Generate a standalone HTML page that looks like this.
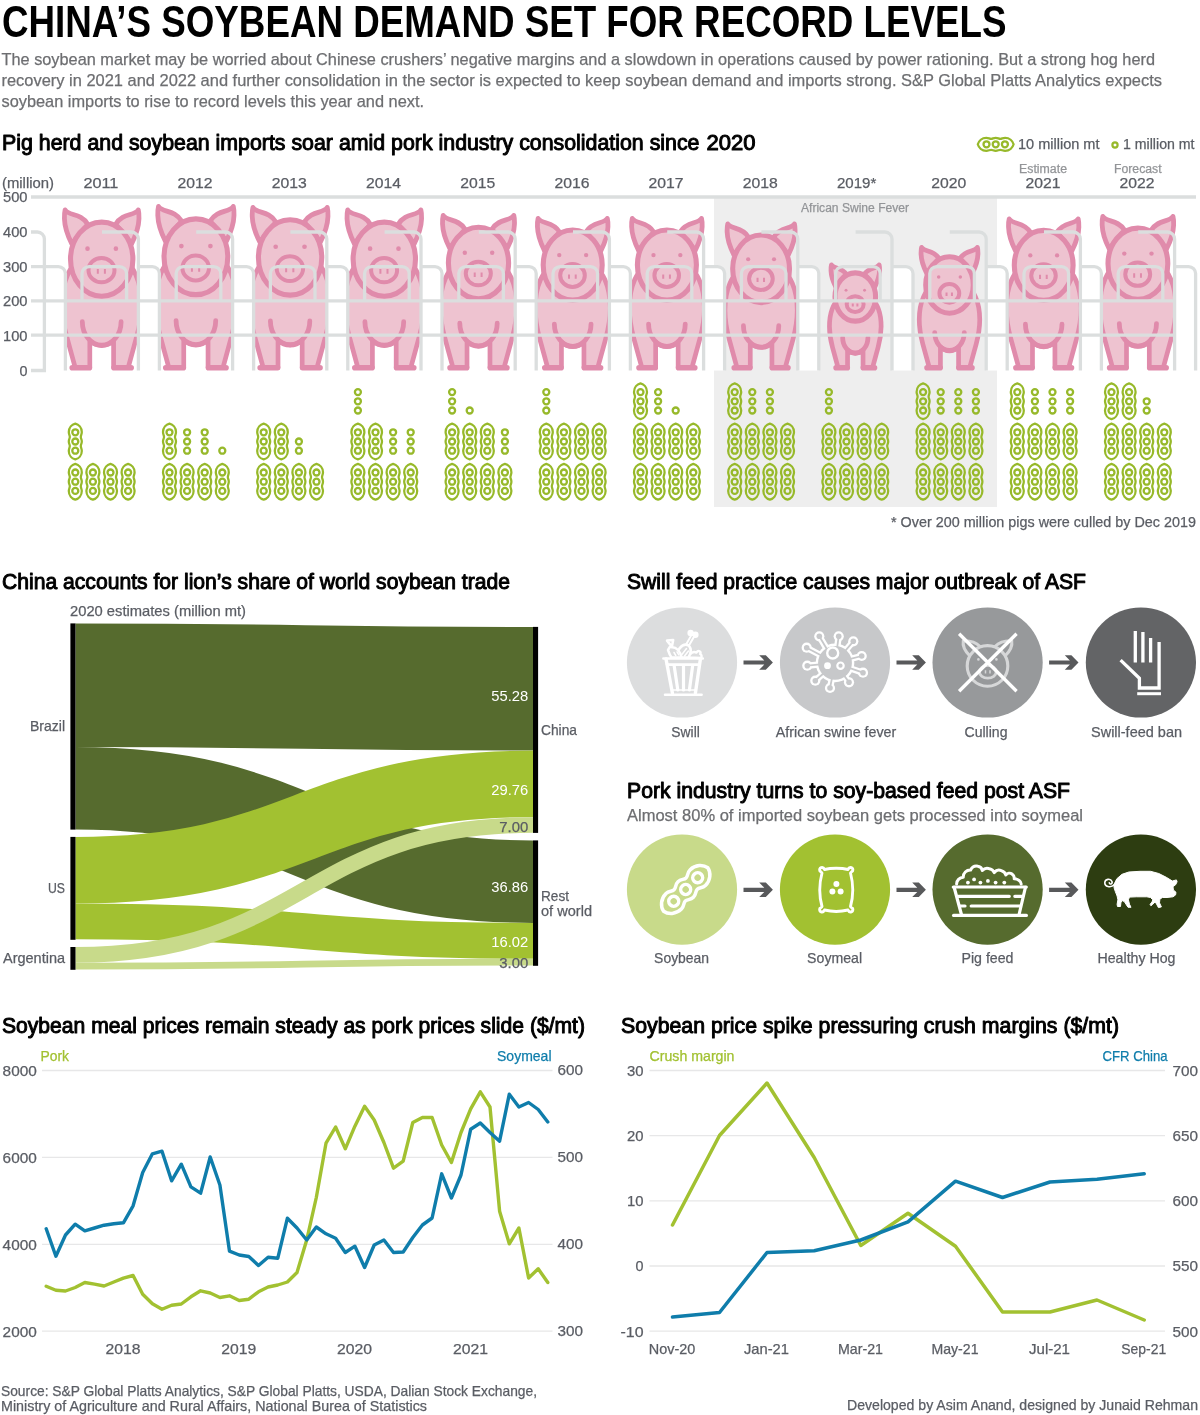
<!DOCTYPE html>
<html lang="en"><head><meta charset="utf-8"><title>China's soybean demand set for record levels</title>
<style>
html,body{margin:0;padding:0;background:#fff}
svg{display:block}
text{font-family:"Liberation Sans",sans-serif}
</style></head><body>
<svg width="1200" height="1415" viewBox="0 0 1200 1415">
<text x="2.0" y="37.0" font-size="43.5" fill="#000" textLength="1004.5" lengthAdjust="spacingAndGlyphs" font-weight="bold">CHINA’S SOYBEAN DEMAND SET FOR RECORD LEVELS</text>
<text x="1.5" y="65.0" font-size="17" fill="#6d6e71" textLength="1153.5" lengthAdjust="spacingAndGlyphs" stroke="#6d6e71" stroke-width="0.25">The soybean market may be worried about Chinese crushers’ negative margins and a slowdown in operations caused by power rationing. But a strong hog herd</text>
<text x="1.5" y="86.0" font-size="17" fill="#6d6e71" textLength="1160.5" lengthAdjust="spacingAndGlyphs" stroke="#6d6e71" stroke-width="0.25">recovery in 2021 and 2022 and further consolidation in the sector is expected to keep soybean demand and imports strong. S&amp;P Global Platts Analytics expects</text>
<text x="1.5" y="107.0" font-size="17" fill="#6d6e71" textLength="422.5" lengthAdjust="spacingAndGlyphs" stroke="#6d6e71" stroke-width="0.25">soybean imports to rise to record levels this year and next.</text>
<text x="2.0" y="150.0" font-size="22.2" fill="#000" textLength="697.5" lengthAdjust="spacingAndGlyphs" stroke="#000" stroke-width="1.0" stroke-linejoin="round">Pig herd and soybean imports soar amid pork industry consolidation since</text>
<text x="706.5" y="150.0" font-size="22.2" fill="#000" textLength="49.0" lengthAdjust="spacingAndGlyphs" stroke="#000" stroke-width="1.0" stroke-linejoin="round">2020</text>
<text x="2.0" y="589.0" font-size="22.2" fill="#000" textLength="508.0" lengthAdjust="spacingAndGlyphs" stroke="#000" stroke-width="1.0" stroke-linejoin="round">China accounts for lion’s share of world soybean trade</text>
<text x="627.0" y="589.0" font-size="22.2" fill="#000" textLength="459.0" lengthAdjust="spacingAndGlyphs" stroke="#000" stroke-width="1.0" stroke-linejoin="round">Swill feed practice causes major outbreak of ASF</text>
<text x="627.0" y="798.0" font-size="22.2" fill="#000" textLength="443.0" lengthAdjust="spacingAndGlyphs" stroke="#000" stroke-width="1.0" stroke-linejoin="round">Pork industry turns to soy-based feed post ASF</text>
<text x="627.0" y="820.6" font-size="16.3" fill="#6d6e71" textLength="456.0" lengthAdjust="spacingAndGlyphs" stroke="#6d6e71" stroke-width="0.25">Almost 80% of imported soybean gets processed into soymeal</text>
<text x="2.0" y="1033.0" font-size="22.2" fill="#000" textLength="583.0" lengthAdjust="spacingAndGlyphs" stroke="#000" stroke-width="1.0" stroke-linejoin="round">Soybean meal prices remain steady as pork prices slide ($/mt)</text>
<text x="621.0" y="1033.0" font-size="22.2" fill="#000" textLength="498.0" lengthAdjust="spacingAndGlyphs" stroke="#000" stroke-width="1.0" stroke-linejoin="round">Soybean price spike pressuring crush margins ($/mt)</text>
<text x="1.0" y="1396.0" font-size="14.5" fill="#5a5d64" textLength="536.0" lengthAdjust="spacingAndGlyphs" stroke="#5a5d64" stroke-width="0.25">Source: S&amp;P Global Platts Analytics, S&amp;P Global Platts, USDA, Dalian Stock Exchange,</text>
<text x="1.0" y="1411.0" font-size="14.5" fill="#5a5d64" textLength="426.0" lengthAdjust="spacingAndGlyphs" stroke="#5a5d64" stroke-width="0.25">Ministry of Agriculture and Rural Affairs, National Burea of Statistics</text>
<text x="847.0" y="1410.0" font-size="14.5" fill="#5a5d64" textLength="351.0" lengthAdjust="spacingAndGlyphs" stroke="#5a5d64" stroke-width="0.25">Developed by Asim Anand, designed by Junaid Rehman</text>
<defs>
<g id="pod" fill="none" stroke="#97b92a"><path d="M0,-17.9 C3.4,-17 6.5,-13.8 6.5,-9.4 C6.5,-7.2 5.5,-6.2 5.5,-4.6 C5.5,-3 6.5,-2.2 6.5,0 C6.5,2.2 5.5,3 5.5,4.6 C5.5,6.2 6.5,7.2 6.5,9.4 C6.5,13.8 3.4,17 0,17.9 C-3.4,17 -6.5,13.8 -6.5,9.4 C-6.5,7.2 -5.5,6.2 -5.5,4.6 C-5.5,3 -6.5,2.2 -6.5,0 C-6.5,-2.2 -5.5,-3 -5.5,-4.6 C-5.5,-6.2 -6.5,-7.2 -6.5,-9.4 C-6.5,-13.8 -3.4,-17 0,-17.9 Z" stroke-width="2.25" stroke-linejoin="round"/><circle cx="0" cy="-9.2" r="3" stroke-width="2.3"/><circle cx="0" cy="0" r="3" stroke-width="2.3"/><circle cx="0" cy="9.2" r="3" stroke-width="2.3"/></g>
<circle id="dot" cx="0" cy="0" r="3" fill="none" stroke="#97b92a" stroke-width="2.3"/>
<g id="pig" stroke="#e08bab" fill="#eec3d0" stroke-linejoin="round" stroke-linecap="round"><path vector-effect="non-scaling-stroke" d="M-30,-127 C-33,-133 -37,-142 -37.3,-152 C-37.4,-156 -37.2,-158.5 -36.6,-160.8 C-33,-154.5 -21,-158 -14,-146.5 Z" stroke-width="4.8"/><path vector-effect="non-scaling-stroke" d="M30,-127 C33,-133 37,-142 37.3,-152 C37.4,-156 37.2,-158.5 36.6,-160.8 C33,-154.5 21,-158 14,-146.5 Z" stroke-width="4.8"/><path vector-effect="non-scaling-stroke" d="M-24,-110 C-30,-105 -39.7,-92 -39.7,-66 C-39.7,-54 -37.5,-43 -35,-34 L-26.5,-3 L-11.9,-3 L-11.9,-30 A19.4,23.5 0 0 0 11.9,-30 L11.9,-3 L26.5,-3 L35,-34 C37.5,-43 39.7,-54 39.7,-66 C39.7,-92 30,-105 24,-110 Z" stroke-width="4.7"/><path vector-effect="non-scaling-stroke" d="M-19.4,-49 A19.4,23.5 0 0 0 19.4,-49" fill="none" stroke-width="4.8"/><path vector-effect="non-scaling-stroke" d="M-29.5,-2.9 H-12.3 M12.3,-2.9 H29.5" fill="none" stroke-width="5.6"/><ellipse vector-effect="non-scaling-stroke" cx="0" cy="-111.5" rx="31.2" ry="37.1" stroke-width="5.1"/><ellipse vector-effect="non-scaling-stroke" cx="-0.2" cy="-100.5" rx="13" ry="12.2" stroke-width="4"/><path vector-effect="non-scaling-stroke" d="M-3.9,-101.6 V-96.9 M3.2,-101.6 V-96.9" fill="none" stroke-width="2" stroke-linecap="butt"/><circle cx="-14.2" cy="-122" r="2.3" fill="#e08bab" stroke="none"/><circle cx="14.2" cy="-122" r="2.3" fill="#e08bab" stroke="none"/></g>
</defs>
<g transform="translate(995.7,144.3) rotate(90)"><use href="#pod"/></g>
<text x="1018.0" y="148.6" font-size="13.8" fill="#5a5d64" textLength="81.5" lengthAdjust="spacingAndGlyphs" stroke="#5a5d64" stroke-width="0.25">10 million mt</text>
<circle cx="1115" cy="145" r="2.6" fill="none" stroke="#97b92a" stroke-width="2.2"/>
<text x="1123.0" y="148.6" font-size="13.8" fill="#5a5d64" textLength="71.5" lengthAdjust="spacingAndGlyphs" stroke="#5a5d64" stroke-width="0.25">1 million mt</text>
<text x="2.0" y="188.4" font-size="14.5" fill="#5a5d64" textLength="52.0" lengthAdjust="spacingAndGlyphs" stroke="#5a5d64" stroke-width="0.25">(million)</text>
<text x="83.4" y="188.4" font-size="14.5" fill="#5a5d64" textLength="35.0" lengthAdjust="spacingAndGlyphs" stroke="#5a5d64" stroke-width="0.25">2011</text>
<text x="177.6" y="188.4" font-size="14.5" fill="#5a5d64" textLength="35.0" lengthAdjust="spacingAndGlyphs" stroke="#5a5d64" stroke-width="0.25">2012</text>
<text x="271.8" y="188.4" font-size="14.5" fill="#5a5d64" textLength="35.0" lengthAdjust="spacingAndGlyphs" stroke="#5a5d64" stroke-width="0.25">2013</text>
<text x="366.0" y="188.4" font-size="14.5" fill="#5a5d64" textLength="35.0" lengthAdjust="spacingAndGlyphs" stroke="#5a5d64" stroke-width="0.25">2014</text>
<text x="460.2" y="188.4" font-size="14.5" fill="#5a5d64" textLength="35.0" lengthAdjust="spacingAndGlyphs" stroke="#5a5d64" stroke-width="0.25">2015</text>
<text x="554.4" y="188.4" font-size="14.5" fill="#5a5d64" textLength="35.0" lengthAdjust="spacingAndGlyphs" stroke="#5a5d64" stroke-width="0.25">2016</text>
<text x="648.6" y="188.4" font-size="14.5" fill="#5a5d64" textLength="35.0" lengthAdjust="spacingAndGlyphs" stroke="#5a5d64" stroke-width="0.25">2017</text>
<text x="742.8" y="188.4" font-size="14.5" fill="#5a5d64" textLength="35.0" lengthAdjust="spacingAndGlyphs" stroke="#5a5d64" stroke-width="0.25">2018</text>
<text x="837.0" y="188.4" font-size="14.5" fill="#5a5d64" textLength="39.3" lengthAdjust="spacingAndGlyphs" stroke="#5a5d64" stroke-width="0.25">2019*</text>
<text x="931.2" y="188.4" font-size="14.5" fill="#5a5d64" textLength="35.0" lengthAdjust="spacingAndGlyphs" stroke="#5a5d64" stroke-width="0.25">2020</text>
<text x="1025.4" y="188.4" font-size="14.5" fill="#5a5d64" textLength="35.0" lengthAdjust="spacingAndGlyphs" stroke="#5a5d64" stroke-width="0.25">2021</text>
<text x="1119.6" y="188.4" font-size="14.5" fill="#5a5d64" textLength="35.0" lengthAdjust="spacingAndGlyphs" stroke="#5a5d64" stroke-width="0.25">2022</text>
<text x="1019.0" y="172.6" font-size="12" fill="#939598" textLength="48.0" lengthAdjust="spacingAndGlyphs" stroke="#939598" stroke-width="0.25">Estimate</text>
<text x="1114.0" y="172.6" font-size="12" fill="#939598" textLength="47.6" lengthAdjust="spacingAndGlyphs" stroke="#939598" stroke-width="0.25">Forecast</text>
<text x="27.5" y="202.4" font-size="14.5" fill="#5a5d64" text-anchor="end" textLength="24.5" lengthAdjust="spacingAndGlyphs" stroke="#5a5d64" stroke-width="0.25">500</text>
<text x="27.5" y="237.4" font-size="14.5" fill="#5a5d64" text-anchor="end" textLength="24.5" lengthAdjust="spacingAndGlyphs" stroke="#5a5d64" stroke-width="0.25">400</text>
<text x="27.5" y="272.0" font-size="14.5" fill="#5a5d64" text-anchor="end" textLength="24.5" lengthAdjust="spacingAndGlyphs" stroke="#5a5d64" stroke-width="0.25">300</text>
<text x="27.5" y="306.2" font-size="14.5" fill="#5a5d64" text-anchor="end" textLength="24.5" lengthAdjust="spacingAndGlyphs" stroke="#5a5d64" stroke-width="0.25">200</text>
<text x="27.5" y="340.6" font-size="14.5" fill="#5a5d64" text-anchor="end" textLength="24.5" lengthAdjust="spacingAndGlyphs" stroke="#5a5d64" stroke-width="0.25">100</text>
<text x="27.5" y="375.9" font-size="14.5" fill="#5a5d64" text-anchor="end" textLength="8.0" lengthAdjust="spacingAndGlyphs" stroke="#5a5d64" stroke-width="0.25">0</text>
<rect x="714" y="198" width="283" height="309" fill="#eeeeee"/>
<text x="855.0" y="211.5" font-size="12" fill="#939598" text-anchor="middle" textLength="108.0" lengthAdjust="spacingAndGlyphs" stroke="#939598" stroke-width="0.25">African Swine Fever</text>
<use href="#pig" transform="translate(101.7,370.60) scale(0.9994)"/>
<use href="#pig" transform="translate(195.9,370.66) scale(1.0215)"/>
<use href="#pig" transform="translate(290.1,370.64) scale(1.0152)"/>
<use href="#pig" transform="translate(384.3,370.60) scale(0.9994)"/>
<use href="#pig" transform="translate(478.5,370.50) scale(0.9645)"/>
<use href="#pig" transform="translate(572.7,370.44) scale(0.9455)"/>
<use href="#pig" transform="translate(666.9,370.44) scale(0.9455)"/>
<use href="#pig" transform="translate(761.1,370.34) scale(0.9107)"/>
<use href="#pig" transform="translate(855.3,369.59) scale(0.6510)"/>
<use href="#pig" transform="translate(949.5,369.91) scale(0.7619)"/>
<use href="#pig" transform="translate(1043.7,370.43) scale(0.9424)"/>
<use href="#pig" transform="translate(1137.9,370.48) scale(0.9582)"/>
<path d="M31,266.6 H58.4 a7,7 0 0 1 7,7 V370.5 H31 Z M138.4,266.6 H152.4 a7,7 0 0 1 7,7 V370.5 H138.4 Z M232.6,266.6 H246.6 a7,7 0 0 1 7,7 V370.5 H232.6 Z M326.8,266.6 H340.8 a7,7 0 0 1 7,7 V370.5 H326.8 Z M421.0,266.6 H435.0 a7,7 0 0 1 7,7 V370.5 H421.0 Z M515.2,266.6 H529.2 a7,7 0 0 1 7,7 V370.5 H515.2 Z M609.4,266.6 H623.4 a7,7 0 0 1 7,7 V370.5 H609.4 Z M703.6,266.6 H717.6 a7,7 0 0 1 7,7 V370.5 H703.6 Z M797.8,266.6 H811.8 a7,7 0 0 1 7,7 V370.5 H797.8 Z M892.0,266.6 H906.0 a7,7 0 0 1 7,7 V370.5 H892.0 Z M986.2,266.6 H1000.2 a7,7 0 0 1 7,7 V370.5 H986.2 Z M1080.4,266.6 H1094.4 a7,7 0 0 1 7,7 V370.5 H1080.4 Z M1174.6,266.6 H1188.6 a7,7 0 0 1 7,7 V370.5 H1174.6 Z" fill="#fff"/>
<path d="M31,197 H1196 M31,300.8 H1174.6 M31,335.2 H1174.6 M31,232 H37.4 a7,7 0 0 1 7,7 V370.5 H31 M31,266.6 H58.4 a7,7 0 0 1 7,7 V370.5 M102.0,232 H131.4 a7,7 0 0 1 7,7 V370.5 M82.0,300.8 V273.6 a7,7 0 0 1 7,-7 H119.6 a7,7 0 0 1 7,7 V300.8 M138.4,266.6 H152.4 a7,7 0 0 1 7,7 V370.5 M196.2,232 H225.6 a7,7 0 0 1 7,7 V370.5 M176.2,300.8 V273.6 a7,7 0 0 1 7,-7 H213.8 a7,7 0 0 1 7,7 V300.8 M232.6,266.6 H246.6 a7,7 0 0 1 7,7 V370.5 M290.4,232 H319.8 a7,7 0 0 1 7,7 V370.5 M270.4,300.8 V273.6 a7,7 0 0 1 7,-7 H308.0 a7,7 0 0 1 7,7 V300.8 M326.8,266.6 H340.8 a7,7 0 0 1 7,7 V370.5 M384.6,232 H414.0 a7,7 0 0 1 7,7 V370.5 M364.6,300.8 V273.6 a7,7 0 0 1 7,-7 H402.2 a7,7 0 0 1 7,7 V300.8 M421.0,266.6 H435.0 a7,7 0 0 1 7,7 V370.5 M478.8,232 H508.2 a7,7 0 0 1 7,7 V370.5 M458.8,300.8 V273.6 a7,7 0 0 1 7,-7 H496.4 a7,7 0 0 1 7,7 V300.8 M515.2,266.6 H529.2 a7,7 0 0 1 7,7 V370.5 M573.0,232 H602.4 a7,7 0 0 1 7,7 V370.5 M553.0,300.8 V273.6 a7,7 0 0 1 7,-7 H590.6 a7,7 0 0 1 7,7 V300.8 M609.4,266.6 H623.4 a7,7 0 0 1 7,7 V370.5 M667.2,232 H696.6 a7,7 0 0 1 7,7 V370.5 M647.2,300.8 V273.6 a7,7 0 0 1 7,-7 H684.8 a7,7 0 0 1 7,7 V300.8 M703.6,266.6 H717.6 a7,7 0 0 1 7,7 V370.5 M761.4,232 H790.8 a7,7 0 0 1 7,7 V370.5 M741.4,300.8 V273.6 a7,7 0 0 1 7,-7 H779.0 a7,7 0 0 1 7,7 V300.8 M797.8,266.6 H811.8 a7,7 0 0 1 7,7 V370.5 M855.6,232 H885.0 a7,7 0 0 1 7,7 V370.5 M835.6,300.8 V273.6 a7,7 0 0 1 7,-7 H873.2 a7,7 0 0 1 7,7 V300.8 M892.0,266.6 H906.0 a7,7 0 0 1 7,7 V370.5 M949.8,232 H979.2 a7,7 0 0 1 7,7 V370.5 M929.8,300.8 V273.6 a7,7 0 0 1 7,-7 H967.4 a7,7 0 0 1 7,7 V300.8 M986.2,266.6 H1000.2 a7,7 0 0 1 7,7 V370.5 M1044.0,232 H1073.4 a7,7 0 0 1 7,7 V370.5 M1024.0,300.8 V273.6 a7,7 0 0 1 7,-7 H1061.6 a7,7 0 0 1 7,7 V300.8 M1080.4,266.6 H1094.4 a7,7 0 0 1 7,7 V370.5 M1138.2,232 H1167.6 a7,7 0 0 1 7,7 V370.5 M1118.2,300.8 V273.6 a7,7 0 0 1 7,-7 H1155.8 a7,7 0 0 1 7,7 V300.8 M1174.6,266.6 H1188.6 a7,7 0 0 1 7,7 V370.5" fill="none" stroke="#dbdede" stroke-width="3.3"/>
<use href="#pod" x="75.3" y="441.5"/>
<use href="#pod" x="75.3" y="481.7"/>
<use href="#pod" x="92.9" y="481.7"/>
<use href="#pod" x="110.5" y="481.7"/>
<use href="#pod" x="128.1" y="481.7"/>
<use href="#pod" x="169.5" y="441.5"/>
<use href="#dot" x="187.1" y="450.7"/>
<use href="#dot" x="187.1" y="441.5"/>
<use href="#dot" x="187.1" y="432.3"/>
<use href="#dot" x="204.7" y="450.7"/>
<use href="#dot" x="204.7" y="441.5"/>
<use href="#dot" x="204.7" y="432.3"/>
<use href="#dot" x="222.3" y="450.7"/>
<use href="#pod" x="169.5" y="481.7"/>
<use href="#pod" x="187.1" y="481.7"/>
<use href="#pod" x="204.7" y="481.7"/>
<use href="#pod" x="222.3" y="481.7"/>
<use href="#pod" x="263.7" y="441.5"/>
<use href="#pod" x="281.3" y="441.5"/>
<use href="#dot" x="298.9" y="450.7"/>
<use href="#dot" x="298.9" y="441.5"/>
<use href="#pod" x="263.7" y="481.7"/>
<use href="#pod" x="281.3" y="481.7"/>
<use href="#pod" x="298.9" y="481.7"/>
<use href="#pod" x="316.5" y="481.7"/>
<use href="#dot" x="357.9" y="410.5"/>
<use href="#dot" x="357.9" y="401.3"/>
<use href="#dot" x="357.9" y="392.1"/>
<use href="#pod" x="357.9" y="441.5"/>
<use href="#pod" x="375.5" y="441.5"/>
<use href="#dot" x="393.1" y="450.7"/>
<use href="#dot" x="393.1" y="441.5"/>
<use href="#dot" x="393.1" y="432.3"/>
<use href="#dot" x="410.7" y="450.7"/>
<use href="#dot" x="410.7" y="441.5"/>
<use href="#dot" x="410.7" y="432.3"/>
<use href="#pod" x="357.9" y="481.7"/>
<use href="#pod" x="375.5" y="481.7"/>
<use href="#pod" x="393.1" y="481.7"/>
<use href="#pod" x="410.7" y="481.7"/>
<use href="#dot" x="452.1" y="410.5"/>
<use href="#dot" x="452.1" y="401.3"/>
<use href="#dot" x="452.1" y="392.1"/>
<use href="#dot" x="469.7" y="410.5"/>
<use href="#pod" x="452.1" y="441.5"/>
<use href="#pod" x="469.7" y="441.5"/>
<use href="#pod" x="487.3" y="441.5"/>
<use href="#dot" x="504.9" y="450.7"/>
<use href="#dot" x="504.9" y="441.5"/>
<use href="#dot" x="504.9" y="432.3"/>
<use href="#pod" x="452.1" y="481.7"/>
<use href="#pod" x="469.7" y="481.7"/>
<use href="#pod" x="487.3" y="481.7"/>
<use href="#pod" x="504.9" y="481.7"/>
<use href="#dot" x="546.3" y="410.5"/>
<use href="#dot" x="546.3" y="401.3"/>
<use href="#dot" x="546.3" y="392.1"/>
<use href="#pod" x="546.3" y="441.5"/>
<use href="#pod" x="563.9" y="441.5"/>
<use href="#pod" x="581.5" y="441.5"/>
<use href="#pod" x="599.1" y="441.5"/>
<use href="#pod" x="546.3" y="481.7"/>
<use href="#pod" x="563.9" y="481.7"/>
<use href="#pod" x="581.5" y="481.7"/>
<use href="#pod" x="599.1" y="481.7"/>
<use href="#pod" x="640.5" y="401.3"/>
<use href="#dot" x="658.1" y="410.5"/>
<use href="#dot" x="658.1" y="401.3"/>
<use href="#dot" x="658.1" y="392.1"/>
<use href="#dot" x="675.7" y="410.5"/>
<use href="#pod" x="640.5" y="441.5"/>
<use href="#pod" x="658.1" y="441.5"/>
<use href="#pod" x="675.7" y="441.5"/>
<use href="#pod" x="693.3" y="441.5"/>
<use href="#pod" x="640.5" y="481.7"/>
<use href="#pod" x="658.1" y="481.7"/>
<use href="#pod" x="675.7" y="481.7"/>
<use href="#pod" x="693.3" y="481.7"/>
<use href="#pod" x="734.7" y="401.3"/>
<use href="#dot" x="752.3" y="410.5"/>
<use href="#dot" x="752.3" y="401.3"/>
<use href="#dot" x="752.3" y="392.1"/>
<use href="#dot" x="769.9" y="410.5"/>
<use href="#dot" x="769.9" y="401.3"/>
<use href="#dot" x="769.9" y="392.1"/>
<use href="#pod" x="734.7" y="441.5"/>
<use href="#pod" x="752.3" y="441.5"/>
<use href="#pod" x="769.9" y="441.5"/>
<use href="#pod" x="787.5" y="441.5"/>
<use href="#pod" x="734.7" y="481.7"/>
<use href="#pod" x="752.3" y="481.7"/>
<use href="#pod" x="769.9" y="481.7"/>
<use href="#pod" x="787.5" y="481.7"/>
<use href="#dot" x="828.9" y="410.5"/>
<use href="#dot" x="828.9" y="401.3"/>
<use href="#dot" x="828.9" y="392.1"/>
<use href="#pod" x="828.9" y="441.5"/>
<use href="#pod" x="846.5" y="441.5"/>
<use href="#pod" x="864.1" y="441.5"/>
<use href="#pod" x="881.7" y="441.5"/>
<use href="#pod" x="828.9" y="481.7"/>
<use href="#pod" x="846.5" y="481.7"/>
<use href="#pod" x="864.1" y="481.7"/>
<use href="#pod" x="881.7" y="481.7"/>
<use href="#pod" x="923.1" y="401.3"/>
<use href="#dot" x="940.7" y="410.5"/>
<use href="#dot" x="940.7" y="401.3"/>
<use href="#dot" x="940.7" y="392.1"/>
<use href="#dot" x="958.3" y="410.5"/>
<use href="#dot" x="958.3" y="401.3"/>
<use href="#dot" x="958.3" y="392.1"/>
<use href="#dot" x="975.9" y="410.5"/>
<use href="#dot" x="975.9" y="401.3"/>
<use href="#dot" x="975.9" y="392.1"/>
<use href="#pod" x="923.1" y="441.5"/>
<use href="#pod" x="940.7" y="441.5"/>
<use href="#pod" x="958.3" y="441.5"/>
<use href="#pod" x="975.9" y="441.5"/>
<use href="#pod" x="923.1" y="481.7"/>
<use href="#pod" x="940.7" y="481.7"/>
<use href="#pod" x="958.3" y="481.7"/>
<use href="#pod" x="975.9" y="481.7"/>
<use href="#pod" x="1017.3" y="401.3"/>
<use href="#dot" x="1034.9" y="410.5"/>
<use href="#dot" x="1034.9" y="401.3"/>
<use href="#dot" x="1034.9" y="392.1"/>
<use href="#dot" x="1052.5" y="410.5"/>
<use href="#dot" x="1052.5" y="401.3"/>
<use href="#dot" x="1052.5" y="392.1"/>
<use href="#dot" x="1070.1" y="410.5"/>
<use href="#dot" x="1070.1" y="401.3"/>
<use href="#dot" x="1070.1" y="392.1"/>
<use href="#pod" x="1017.3" y="441.5"/>
<use href="#pod" x="1034.9" y="441.5"/>
<use href="#pod" x="1052.5" y="441.5"/>
<use href="#pod" x="1070.1" y="441.5"/>
<use href="#pod" x="1017.3" y="481.7"/>
<use href="#pod" x="1034.9" y="481.7"/>
<use href="#pod" x="1052.5" y="481.7"/>
<use href="#pod" x="1070.1" y="481.7"/>
<use href="#pod" x="1111.5" y="401.3"/>
<use href="#pod" x="1129.1" y="401.3"/>
<use href="#dot" x="1146.7" y="410.5"/>
<use href="#dot" x="1146.7" y="401.3"/>
<use href="#pod" x="1111.5" y="441.5"/>
<use href="#pod" x="1129.1" y="441.5"/>
<use href="#pod" x="1146.7" y="441.5"/>
<use href="#pod" x="1164.3" y="441.5"/>
<use href="#pod" x="1111.5" y="481.7"/>
<use href="#pod" x="1129.1" y="481.7"/>
<use href="#pod" x="1146.7" y="481.7"/>
<use href="#pod" x="1164.3" y="481.7"/>
<text x="1196.0" y="527.4" font-size="14.5" fill="#5a5d64" text-anchor="end" textLength="305.0" lengthAdjust="spacingAndGlyphs" stroke="#5a5d64" stroke-width="0.25">* Over 200 million pigs were culled by Dec 2019</text>
<text x="70.0" y="616.0" font-size="14.5" fill="#5a5d64" textLength="176.0" lengthAdjust="spacingAndGlyphs" stroke="#5a5d64" stroke-width="0.25">2020 estimates (million mt)</text>
<path d="M75.5,685.26 C304.25,685.26 304.25,688.76 533.0,688.76" fill="none" stroke="#566b2e" stroke-width="123.72"/>
<path d="M75.5,788.35 C304.25,788.35 304.25,881.65 533.0,881.65" fill="none" stroke="#566b2e" stroke-width="82.49"/>
<path d="M75.5,870.20 C304.25,870.20 304.25,783.90 533.0,783.90" fill="none" stroke="#a2c131" stroke-width="66.60"/>
<path d="M75.5,921.43 C304.25,921.43 304.25,940.83 533.0,940.83" fill="none" stroke="#a2c131" stroke-width="35.85"/>
<path d="M75.5,954.83 C304.25,954.83 304.25,825.03 533.0,825.03" fill="none" stroke="#c8da8a" stroke-width="15.67"/>
<path d="M75.5,966.06 C304.25,966.06 304.25,962.11 533.0,962.11" fill="none" stroke="#c8da8a" stroke-width="6.71"/>
<rect x="70.4" y="623.4" width="5.1" height="206.2" fill="#000"/>
<rect x="70.4" y="836.9" width="5.1" height="102.9" fill="#000"/>
<rect x="70.4" y="947" width="5.1" height="22.8" fill="#000"/>
<rect x="533" y="626.9" width="5.1" height="206.0" fill="#000"/>
<rect x="533" y="840.4" width="5.1" height="125.4" fill="#000"/>
<text x="65.0" y="731.2" font-size="14.5" fill="#5a5d64" text-anchor="end" textLength="35.0" lengthAdjust="spacingAndGlyphs" stroke="#5a5d64" stroke-width="0.25">Brazil</text>
<text x="65.0" y="892.6" font-size="14.5" fill="#5a5d64" text-anchor="end" textLength="17.0" lengthAdjust="spacingAndGlyphs" stroke="#5a5d64" stroke-width="0.25">US</text>
<text x="65.0" y="963.0" font-size="14.5" fill="#5a5d64" text-anchor="end" textLength="62.0" lengthAdjust="spacingAndGlyphs" stroke="#5a5d64" stroke-width="0.25">Argentina</text>
<text x="541.0" y="734.7" font-size="14.5" fill="#5a5d64" textLength="36.0" lengthAdjust="spacingAndGlyphs" stroke="#5a5d64" stroke-width="0.25">China</text>
<text x="541.0" y="900.7" font-size="14.5" fill="#5a5d64" textLength="28.0" lengthAdjust="spacingAndGlyphs" stroke="#5a5d64" stroke-width="0.25">Rest</text>
<text x="541.0" y="916.0" font-size="14.5" fill="#5a5d64" textLength="51.0" lengthAdjust="spacingAndGlyphs" stroke="#5a5d64" stroke-width="0.25">of world</text>
<text x="528.3" y="701.1" font-size="14.5" fill="#fff" text-anchor="end" textLength="37.0" lengthAdjust="spacingAndGlyphs">55.28</text>
<text x="528.3" y="795.1" font-size="14.5" fill="#fff" text-anchor="end" textLength="37.0" lengthAdjust="spacingAndGlyphs">29.76</text>
<text x="528.3" y="831.9" font-size="14.5" fill="#5a5d64" text-anchor="end" textLength="29.0" lengthAdjust="spacingAndGlyphs" stroke="#5a5d64" stroke-width="0.25">7.00</text>
<text x="528.3" y="891.8" font-size="14.5" fill="#fff" text-anchor="end" textLength="37.0" lengthAdjust="spacingAndGlyphs">36.86</text>
<text x="528.3" y="946.9" font-size="14.5" fill="#fff" text-anchor="end" textLength="37.0" lengthAdjust="spacingAndGlyphs">16.02</text>
<text x="528.3" y="967.8" font-size="14.5" fill="#5a5d64" text-anchor="end" textLength="29.0" lengthAdjust="spacingAndGlyphs" stroke="#5a5d64" stroke-width="0.25">3.00</text>
<circle cx="682.0" cy="662.5" r="55.1" fill="#dcddde"/>
<circle cx="835.0" cy="662.5" r="55.1" fill="#c7c8ca"/>
<circle cx="987.6" cy="662.5" r="55.1" fill="#97999b"/>
<circle cx="1140.9" cy="662.5" r="55.1" fill="#636466"/>
<circle cx="682.0" cy="889.6" r="55.1" fill="#c8da8a"/>
<circle cx="835.0" cy="889.6" r="55.1" fill="#a2c131"/>
<circle cx="987.6" cy="889.6" r="55.1" fill="#566b2e"/>
<circle cx="1140.9" cy="889.6" r="55.1" fill="#2d3d11"/>
<path d="M743.5,660.4 H764.3 L759.2,655.2 H765.8 L772.9,662.5 L765.8,669.8 H759.2 L764.3,664.6 H743.5 Z" fill="#58595b"/>
<path d="M743.5,887.7 H764.3 L759.2,882.5 H765.8 L772.9,889.8 L765.8,897.1 H759.2 L764.3,891.9 H743.5 Z" fill="#58595b"/>
<path d="M896.5,660.4 H917.3 L912.2,655.2 H918.8 L925.9,662.5 L918.8,669.8 H912.2 L917.3,664.6 H896.5 Z" fill="#58595b"/>
<path d="M896.5,887.7 H917.3 L912.2,882.5 H918.8 L925.9,889.8 L918.8,897.1 H912.2 L917.3,891.9 H896.5 Z" fill="#58595b"/>
<path d="M1049.1,660.4 H1069.9 L1064.8,655.2 H1071.4 L1078.5,662.5 L1071.4,669.8 H1064.8 L1069.9,664.6 H1049.1 Z" fill="#58595b"/>
<path d="M1049.1,887.7 H1069.9 L1064.8,882.5 H1071.4 L1078.5,889.8 L1071.4,897.1 H1064.8 L1069.9,891.9 H1049.1 Z" fill="#58595b"/>
<text x="685.6" y="736.8" font-size="14.5" fill="#5a5d64" text-anchor="middle" textLength="28.5" lengthAdjust="spacingAndGlyphs" stroke="#5a5d64" stroke-width="0.25">Swill</text>
<text x="836.0" y="736.8" font-size="14.5" fill="#5a5d64" text-anchor="middle" textLength="120.5" lengthAdjust="spacingAndGlyphs" stroke="#5a5d64" stroke-width="0.25">African swine fever</text>
<text x="986.0" y="736.8" font-size="14.5" fill="#5a5d64" text-anchor="middle" textLength="43.0" lengthAdjust="spacingAndGlyphs" stroke="#5a5d64" stroke-width="0.25">Culling</text>
<text x="1136.5" y="736.8" font-size="14.5" fill="#5a5d64" text-anchor="middle" textLength="91.0" lengthAdjust="spacingAndGlyphs" stroke="#5a5d64" stroke-width="0.25">Swill-feed ban</text>
<text x="681.6" y="962.7" font-size="14.5" fill="#5a5d64" text-anchor="middle" textLength="55.0" lengthAdjust="spacingAndGlyphs" stroke="#5a5d64" stroke-width="0.25">Soybean</text>
<text x="834.6" y="962.7" font-size="14.5" fill="#5a5d64" text-anchor="middle" textLength="55.0" lengthAdjust="spacingAndGlyphs" stroke="#5a5d64" stroke-width="0.25">Soymeal</text>
<text x="987.5" y="962.7" font-size="14.5" fill="#5a5d64" text-anchor="middle" textLength="52.0" lengthAdjust="spacingAndGlyphs" stroke="#5a5d64" stroke-width="0.25">Pig feed</text>
<text x="1136.5" y="962.7" font-size="14.5" fill="#5a5d64" text-anchor="middle" textLength="78.0" lengthAdjust="spacingAndGlyphs" stroke="#5a5d64" stroke-width="0.25">Healthy Hog</text>
<g fill="none" stroke="#fff" stroke-width="2.6" stroke-linecap="round" stroke-linejoin="round"><path d="M663.4,658.5 H702.8 M667,664.6 H699.6"/><path d="M666,659 L672.4,693 M700.4,659 L695.4,693" stroke-width="3.4"/><path d="M672.6,690 H695.6" stroke-width="1.6"/><path d="M674.2,666 L677.8,690 M683.5,666 V690 M692.6,666 L689.4,690" stroke-width="3.2"/><path d="M665,694.8 H701.6" stroke-width="2.5"/><path d="M692.6,636.2 L686.2,647.2" stroke-width="5"/><circle cx="690.6" cy="633" r="1.9" fill="#fff"/><circle cx="695.4" cy="634.8" r="1.9" fill="#fff"/><path d="M692.3,636.6 L687,646" stroke="#dcddde" stroke-width="1.1"/><path d="M688.2,645.2 C691.5,647.5 691.6,653 688.5,657.5 H677.5 C675.5,651.5 682,642.5 688.2,645.2 Z" fill="#dcddde" stroke-width="2.6"/><path d="M681.5,655 L686.5,648.5 M684.5,656 L688.5,651" stroke-width="1.5"/><path d="M667,640.6 L670.8,645.4 L668,650 C669,653 670,655.5 671.5,657.5 H681.5 C680.5,651.5 676.5,647 671.8,647.2 L673.2,640 Z" fill="#dcddde" stroke-width="2.5"/><path d="M674,652.5 l1.8,3 M677,651.8 l1.8,3" stroke-width="1.5"/><path d="M688.8,657.5 C689.8,652.8 693.6,651 696.4,652.6 C698.4,649.6 701.4,651.6 700.2,654 C702.2,655 701.8,657 700.8,658 Z" fill="#dcddde" stroke-width="2.4"/></g>
<path d="M827.4,650.0 L819.3,636.3" stroke="#fff" stroke-width="6.4" fill="none"/><circle cx="819.3" cy="636.3" r="5.1" fill="#fff"/><path d="M837.1,648.0 L838.7,636.3" stroke="#fff" stroke-width="6.4" fill="none"/><circle cx="838.7" cy="636.3" r="5.1" fill="#fff"/><path d="M844.7,651.5 L853.3,641.3" stroke="#fff" stroke-width="6.4" fill="none"/><circle cx="853.3" cy="641.3" r="5.1" fill="#fff"/><path d="M849.5,659.1 L861.7,656.0" stroke="#fff" stroke-width="6.4" fill="none"/><circle cx="861.7" cy="656.0" r="5.1" fill="#fff"/><path d="M849.2,667.9 L863.0,672.7" stroke="#fff" stroke-width="6.4" fill="none"/><circle cx="863.0" cy="672.7" r="5.1" fill="#fff"/><path d="M843.8,675.1 L849.0,682.3" stroke="#fff" stroke-width="6.4" fill="none"/><circle cx="849.0" cy="682.3" r="5.1" fill="#fff"/><path d="M832.1,677.6 L830.0,688.0" stroke="#fff" stroke-width="6.4" fill="none"/><circle cx="830.0" cy="688.0" r="5.1" fill="#fff"/><path d="M823.9,673.0 L815.3,680.7" stroke="#fff" stroke-width="6.4" fill="none"/><circle cx="815.3" cy="680.7" r="5.1" fill="#fff"/><path d="M820.1,664.4 L807.3,665.7" stroke="#fff" stroke-width="6.4" fill="none"/><circle cx="807.3" cy="665.7" r="5.1" fill="#fff"/><path d="M821.8,655.8 L806.7,647.7" stroke="#fff" stroke-width="6.4" fill="none"/><circle cx="806.7" cy="647.7" r="5.1" fill="#fff"/><circle cx="835.0" cy="662.9" r="19.3" fill="#fff"/>
<path d="M827.4,650.0 L819.3,636.3" stroke="#c7c8ca" stroke-width="1.8" fill="none"/><circle cx="819.3" cy="636.3" r="2.8" fill="#c7c8ca"/><path d="M837.1,648.0 L838.7,636.3" stroke="#c7c8ca" stroke-width="1.8" fill="none"/><circle cx="838.7" cy="636.3" r="2.8" fill="#c7c8ca"/><path d="M844.7,651.5 L853.3,641.3" stroke="#c7c8ca" stroke-width="1.8" fill="none"/><circle cx="853.3" cy="641.3" r="2.8" fill="#c7c8ca"/><path d="M849.5,659.1 L861.7,656.0" stroke="#c7c8ca" stroke-width="1.8" fill="none"/><circle cx="861.7" cy="656.0" r="2.8" fill="#c7c8ca"/><path d="M849.2,667.9 L863.0,672.7" stroke="#c7c8ca" stroke-width="1.8" fill="none"/><circle cx="863.0" cy="672.7" r="2.8" fill="#c7c8ca"/><path d="M843.8,675.1 L849.0,682.3" stroke="#c7c8ca" stroke-width="1.8" fill="none"/><circle cx="849.0" cy="682.3" r="2.8" fill="#c7c8ca"/><path d="M832.1,677.6 L830.0,688.0" stroke="#c7c8ca" stroke-width="1.8" fill="none"/><circle cx="830.0" cy="688.0" r="2.8" fill="#c7c8ca"/><path d="M823.9,673.0 L815.3,680.7" stroke="#c7c8ca" stroke-width="1.8" fill="none"/><circle cx="815.3" cy="680.7" r="2.8" fill="#c7c8ca"/><path d="M820.1,664.4 L807.3,665.7" stroke="#c7c8ca" stroke-width="1.8" fill="none"/><circle cx="807.3" cy="665.7" r="2.8" fill="#c7c8ca"/><path d="M821.8,655.8 L806.7,647.7" stroke="#c7c8ca" stroke-width="1.8" fill="none"/><circle cx="806.7" cy="647.7" r="2.8" fill="#c7c8ca"/><circle cx="835.0" cy="662.9" r="16.9" fill="#c7c8ca"/>
<circle cx="832.7" cy="653" r="5.5" fill="none" stroke="#fff" stroke-width="2.4"/>
<circle cx="827.5" cy="665.7" r="3.4" fill="#fff"/>
<circle cx="840.5" cy="665.7" r="3.2" fill="none" stroke="#fff" stroke-width="2.2"/>
<g fill="none" stroke="#d6d7d8" stroke-width="3.1" stroke-linejoin="round"><path d="M969.5,655.5 C964.5,650.5 962.5,645.5 963.3,640.8 C970,640.5 976,642.5 980,646.5"/><path d="M1005.5,655.5 C1010.5,650.5 1012.5,645.5 1011.7,640.8 C1005,640.5 999,642.5 995,646.5"/><circle cx="987.5" cy="665.9" r="20.3"/><ellipse cx="987.8" cy="671.8" rx="8.4" ry="6.4" stroke-width="2.8"/><path d="M985.5,670.3 V673.6 M990,670.3 V673.6" stroke-width="1.5"/></g><circle cx="978.4" cy="659.4" r="1.3" fill="#d6d7d8"/><circle cx="996.4" cy="659.4" r="1.3" fill="#d6d7d8"/>
<path d="M959.1,633.75 L1016.6,691.25 M1016.6,633.75 L959.1,691.25" fill="none" stroke="#fff" stroke-width="3.3"/>
<g fill="none" stroke="#fff" stroke-width="3.3"><path d="M1135.3,631 V662.6 M1142.9,632 V662.6 M1150.6,637.9 V662.6"/><path d="M1159.1,642 V688 H1139.4 V678.3 L1120.6,660.1"/><path d="M1137.2,693.7 H1161" stroke-width="3"/></g>
<g transform="translate(685.7,889.5) rotate(45.5)" fill="none" stroke="#fff"><path d="M0,-31 C5.5,-30 11,-24.5 11,-16.8 C11,-12.5 8,-11.5 8,-8.4 C8,-5.3 11,-4.3 11,0 C11,4.3 8,5.3 8,8.4 C8,11.5 11,12.5 11,16.8 C11,24.5 5.5,30 0,31 C-5.5,30 -11,24.5 -11,16.8 C-11,12.5 -8,11.5 -8,8.4 C-8,5.3 -11,4.3 -11,0 C-11,-4.3 -8,-5.3 -8,-8.4 C-8,-11.5 -11,-12.5 -11,-16.8 C-11,-24.5 -5.5,-30 0,-31 Z" stroke-width="3.5" stroke-linejoin="round"/><circle cx="0" cy="-16.8" r="4.95" stroke-width="3.5"/><circle cx="0" cy="0" r="4.95" stroke-width="3.5"/><circle cx="0" cy="16.8" r="4.95" stroke-width="3.5"/></g>
<g fill="none" stroke="#fff" stroke-width="2.9" stroke-linejoin="round" stroke-linecap="round"><path d="M824.5,869.5 C831,867.8 841.5,867.8 848,869.5 C849.5,866 854,867.5 852.6,871 C851.5,872 850.5,872.3 850.5,873 C853.4,884 853.4,896 850.5,906.5 C850.5,907.2 851.5,907.6 852.6,908.4 C854,912 849.5,913.5 848,910 C841.5,911.6 831,911.6 824.5,910 C823,913.5 818.5,912 819.9,908.4 C821,907.6 822,907.2 822,906.5 C819.1,896 819.1,884 822,873 C822,872.3 821,872 819.9,871 C818.5,867.5 823,866 824.5,869.5 Z"/></g>
<circle cx="836.4" cy="884" r="3" fill="#fff"/><circle cx="832.4" cy="891.5" r="3" fill="#fff"/><circle cx="840.6" cy="891.5" r="3" fill="#fff"/>
<g fill="none" stroke="#fff" stroke-width="3.2" stroke-linecap="round" stroke-linejoin="round"><path d="M953.3,887 H1026.3"/><path d="M954.2,887.5 L961.3,914 M1025.4,887.5 L1019.2,914"/><path d="M953.6,915.4 H1026.4"/><path d="M957.6,896.3 H1009.3 M1014.8,896.3 H1022.8 M959.6,906 H965 M971.2,906 H1020.4"/><path d="M956.6,884 C956.6,880.5 959.5,877.5 963.3,877.3 C963,873 966.5,869.8 970.6,870 C972,867 975,865.6 978,866.2 C980.5,866.6 982,868.5 982.3,870.6 C984,868.6 986.5,868 988.6,868.5 C991.5,869 993.5,870.6 994.3,872.6 C996,870.3 999,869.6 1001.3,870.6 C1003.6,871.5 1005.5,873 1005.8,875 C1007.5,873 1010.3,872.8 1012,874 C1013.6,875.2 1014.6,877 1014.2,878.8 C1018,879 1021.2,881.3 1021.2,884" stroke-width="3"/></g>
<circle cx="967.9" cy="882.6" r="1.9" fill="#fff"/>
<circle cx="974.1" cy="879.4" r="1.9" fill="#fff"/>
<circle cx="980.4" cy="882.6" r="1.9" fill="#fff"/>
<circle cx="987.9" cy="880.9" r="1.9" fill="#fff"/>
<circle cx="995.6" cy="882.6" r="1.9" fill="#fff"/>
<circle cx="1004.3" cy="882.6" r="1.9" fill="#fff"/>
<polygon points="1113.8,884.8 1116.8,878.8 1122.0,874.3 1128.8,872.0 1140.0,871.3 1150.5,871.3 1158.8,873.5 1166.3,877.3 1172.3,881.0 1176.4,879.9 1177.1,881.8 1175.6,884.8 1173.0,886.6 1173.4,890.0 1176.0,892.3 1175.6,894.9 1173.0,896.8 1167.0,897.5 1162.5,897.5 1159.9,899.0 1159.5,902.8 1161.4,906.9 1158.4,907.6 1156.5,903.9 1155.0,902.0 1152.8,904.3 1150.9,905.8 1150.1,904.3 1152.0,902.0 1152.8,899.8 1150.5,897.5 1146.8,896.8 1136.3,896.8 1129.5,897.1 1128.4,899.8 1129.5,904.3 1131.0,907.3 1128.0,907.3 1126.5,905.0 1124.3,901.6 1122.0,900.5 1120.9,902.8 1120.5,906.5 1117.5,906.5 1117.1,904.3 1117.9,899.8 1117.1,896.0 1115.3,891.5 1114.1,887.8" fill="#fff" stroke="#fff" stroke-width="1" stroke-linejoin="round"/>
<path d="M1114.5,884.5 C1110.5,888.5 1104.5,886.5 1104.8,882.5 C1105,879 1110.5,878 1112,881.5 C1112.8,884 1109.5,885 1109.3,882.8" fill="none" stroke="#fff" stroke-width="1.6" stroke-linecap="round"/>
<path d="M42,1070.5 H552.5 M42,1157.3 H552.5 M42,1244.3 H552.5 M42,1331.2 H552.5" stroke="#e7e7e8" stroke-width="1.3" fill="none"/>
<text x="2.6" y="1075.9" font-size="14.5" fill="#5a5d64" textLength="34.2" lengthAdjust="spacingAndGlyphs" stroke="#5a5d64" stroke-width="0.25">8000</text>
<text x="2.6" y="1162.7" font-size="14.5" fill="#5a5d64" textLength="34.2" lengthAdjust="spacingAndGlyphs" stroke="#5a5d64" stroke-width="0.25">6000</text>
<text x="2.6" y="1249.7" font-size="14.5" fill="#5a5d64" textLength="34.2" lengthAdjust="spacingAndGlyphs" stroke="#5a5d64" stroke-width="0.25">4000</text>
<text x="2.6" y="1336.6" font-size="14.5" fill="#5a5d64" textLength="34.2" lengthAdjust="spacingAndGlyphs" stroke="#5a5d64" stroke-width="0.25">2000</text>
<text x="557.5" y="1075.2" font-size="14.5" fill="#5a5d64" textLength="25.5" lengthAdjust="spacingAndGlyphs" stroke="#5a5d64" stroke-width="0.25">600</text>
<text x="557.5" y="1162.0" font-size="14.5" fill="#5a5d64" textLength="25.5" lengthAdjust="spacingAndGlyphs" stroke="#5a5d64" stroke-width="0.25">500</text>
<text x="557.5" y="1249.0" font-size="14.5" fill="#5a5d64" textLength="25.5" lengthAdjust="spacingAndGlyphs" stroke="#5a5d64" stroke-width="0.25">400</text>
<text x="557.5" y="1335.9" font-size="14.5" fill="#5a5d64" textLength="25.5" lengthAdjust="spacingAndGlyphs" stroke="#5a5d64" stroke-width="0.25">300</text>
<text x="40.5" y="1060.6" font-size="14.5" fill="#a2c131" textLength="28.5" lengthAdjust="spacingAndGlyphs" stroke="#a2c131" stroke-width="0.25">Pork</text>
<text x="551.5" y="1060.6" font-size="14.5" fill="#0f7dab" text-anchor="end" textLength="54.5" lengthAdjust="spacingAndGlyphs" stroke="#0f7dab" stroke-width="0.25">Soymeal</text>
<text x="123.0" y="1354.1" font-size="14.5" fill="#5a5d64" text-anchor="middle" textLength="35.0" lengthAdjust="spacingAndGlyphs" stroke="#5a5d64" stroke-width="0.25">2018</text>
<text x="238.8" y="1354.1" font-size="14.5" fill="#5a5d64" text-anchor="middle" textLength="35.0" lengthAdjust="spacingAndGlyphs" stroke="#5a5d64" stroke-width="0.25">2019</text>
<text x="354.5" y="1354.1" font-size="14.5" fill="#5a5d64" text-anchor="middle" textLength="35.0" lengthAdjust="spacingAndGlyphs" stroke="#5a5d64" stroke-width="0.25">2020</text>
<text x="470.5" y="1354.1" font-size="14.5" fill="#5a5d64" text-anchor="middle" textLength="35.0" lengthAdjust="spacingAndGlyphs" stroke="#5a5d64" stroke-width="0.25">2021</text>
<polyline points="46.2,1286.2 55.9,1290.2 65.5,1291.0 75.2,1287.5 84.8,1282.5 94.5,1284.2 104.1,1286.0 113.8,1282.0 123.4,1278.2 133.1,1275.5 142.7,1294.2 152.4,1303.8 162.0,1309.2 171.6,1305.2 181.3,1304.0 190.9,1296.8 200.6,1290.8 210.2,1293.0 219.9,1297.5 229.5,1295.8 239.2,1300.5 248.8,1299.2 258.5,1291.8 268.1,1287.0 277.8,1285.0 287.4,1282.0 297.0,1272.5 306.7,1240.0 316.3,1197.5 326.0,1143.2 335.6,1127.0 345.3,1148.8 354.9,1126.2 364.6,1106.2 374.2,1120.0 383.9,1142.5 393.5,1168.2 403.2,1161.2 412.8,1122.5 422.4,1117.5 432.1,1117.5 441.7,1145.0 451.4,1162.5 461.0,1132.5 470.7,1108.8 480.3,1091.8 490.0,1107.0 499.6,1211.2 509.3,1243.8 518.9,1228.0 528.6,1278.0 538.2,1268.8 547.8,1282.5" fill="none" stroke="#a2c131" stroke-width="3.4" stroke-linejoin="round" stroke-linecap="round"/>
<polyline points="46.2,1228.8 55.9,1256.2 65.5,1235.0 75.2,1224.2 84.8,1230.8 94.5,1228.0 104.1,1225.2 113.8,1223.8 123.4,1222.8 133.1,1205.8 142.7,1172.5 152.4,1153.8 162.0,1151.2 171.6,1180.8 181.3,1164.2 190.9,1186.8 200.6,1193.2 210.2,1157.0 219.9,1185.0 229.5,1251.2 239.2,1255.0 248.8,1256.5 258.5,1265.5 268.1,1257.2 277.8,1258.2 287.4,1218.2 297.0,1228.0 306.7,1240.0 316.3,1227.0 326.0,1233.8 335.6,1238.2 345.3,1252.5 354.9,1246.2 364.6,1267.5 374.2,1245.0 383.9,1240.0 393.5,1252.5 403.2,1252.0 412.8,1237.5 422.4,1225.0 432.1,1218.0 441.7,1173.8 451.4,1198.0 461.0,1175.0 470.7,1129.2 480.3,1123.0 490.0,1132.5 499.6,1141.2 509.3,1094.2 518.9,1107.0 528.6,1102.5 538.2,1109.5 547.8,1122.0" fill="none" stroke="#0f7dab" stroke-width="3.4" stroke-linejoin="round" stroke-linecap="round"/>
<path d="M649.5,1070.5 H1165 M649.5,1135.6 H1165 M649.5,1200.8 H1165 M649.5,1266 H1165 M649.5,1331.2 H1165" stroke="#e7e7e8" stroke-width="1.3" fill="none"/>
<text x="643.5" y="1075.9" font-size="14.5" fill="#5a5d64" text-anchor="end" textLength="16.5" lengthAdjust="spacingAndGlyphs" stroke="#5a5d64" stroke-width="0.25">30</text>
<text x="643.5" y="1141.0" font-size="14.5" fill="#5a5d64" text-anchor="end" textLength="16.5" lengthAdjust="spacingAndGlyphs" stroke="#5a5d64" stroke-width="0.25">20</text>
<text x="643.5" y="1206.2" font-size="14.5" fill="#5a5d64" text-anchor="end" textLength="16.5" lengthAdjust="spacingAndGlyphs" stroke="#5a5d64" stroke-width="0.25">10</text>
<text x="643.5" y="1271.4" font-size="14.5" fill="#5a5d64" text-anchor="end" textLength="8.0" lengthAdjust="spacingAndGlyphs" stroke="#5a5d64" stroke-width="0.25">0</text>
<text x="643.5" y="1336.6" font-size="14.5" fill="#5a5d64" text-anchor="end" textLength="23.0" lengthAdjust="spacingAndGlyphs" stroke="#5a5d64" stroke-width="0.25">-10</text>
<text x="1172.5" y="1075.9" font-size="14.5" fill="#5a5d64" textLength="25.5" lengthAdjust="spacingAndGlyphs" stroke="#5a5d64" stroke-width="0.25">700</text>
<text x="1172.5" y="1141.0" font-size="14.5" fill="#5a5d64" textLength="25.5" lengthAdjust="spacingAndGlyphs" stroke="#5a5d64" stroke-width="0.25">650</text>
<text x="1172.5" y="1206.2" font-size="14.5" fill="#5a5d64" textLength="25.5" lengthAdjust="spacingAndGlyphs" stroke="#5a5d64" stroke-width="0.25">600</text>
<text x="1172.5" y="1271.4" font-size="14.5" fill="#5a5d64" textLength="25.5" lengthAdjust="spacingAndGlyphs" stroke="#5a5d64" stroke-width="0.25">550</text>
<text x="1172.5" y="1336.6" font-size="14.5" fill="#5a5d64" textLength="25.5" lengthAdjust="spacingAndGlyphs" stroke="#5a5d64" stroke-width="0.25">500</text>
<text x="649.5" y="1060.6" font-size="14.5" fill="#a2c131" textLength="85.0" lengthAdjust="spacingAndGlyphs" stroke="#a2c131" stroke-width="0.25">Crush margin</text>
<text x="1167.5" y="1060.6" font-size="14.5" fill="#0f7dab" text-anchor="end" textLength="65.0" lengthAdjust="spacingAndGlyphs" stroke="#0f7dab" stroke-width="0.25">CFR China</text>
<text x="672.0" y="1354.1" font-size="14.5" fill="#5a5d64" text-anchor="middle" textLength="46.5" lengthAdjust="spacingAndGlyphs" stroke="#5a5d64" stroke-width="0.25">Nov-20</text>
<text x="766.5" y="1354.1" font-size="14.5" fill="#5a5d64" text-anchor="middle" textLength="45.0" lengthAdjust="spacingAndGlyphs" stroke="#5a5d64" stroke-width="0.25">Jan-21</text>
<text x="860.5" y="1354.1" font-size="14.5" fill="#5a5d64" text-anchor="middle" textLength="45.0" lengthAdjust="spacingAndGlyphs" stroke="#5a5d64" stroke-width="0.25">Mar-21</text>
<text x="955.0" y="1354.1" font-size="14.5" fill="#5a5d64" text-anchor="middle" textLength="47.0" lengthAdjust="spacingAndGlyphs" stroke="#5a5d64" stroke-width="0.25">May-21</text>
<text x="1049.5" y="1354.1" font-size="14.5" fill="#5a5d64" text-anchor="middle" textLength="41.0" lengthAdjust="spacingAndGlyphs" stroke="#5a5d64" stroke-width="0.25">Jul-21</text>
<text x="1143.7" y="1354.1" font-size="14.5" fill="#5a5d64" text-anchor="middle" textLength="45.0" lengthAdjust="spacingAndGlyphs" stroke="#5a5d64" stroke-width="0.25">Sep-21</text>
<polyline points="672.5,1225.0 719.5,1135.5 767.0,1083.0 814.2,1157.5 860.8,1245.5 908.0,1213.2 955.5,1246.2 1002.5,1312.0 1050.0,1312.0 1097.0,1300.0 1144.2,1320.0" fill="none" stroke="#a2c131" stroke-width="3.5" stroke-linejoin="round" stroke-linecap="round"/>
<polyline points="672.5,1317.0 719.5,1312.5 767.0,1252.5 814.2,1250.8 860.8,1240.0 908.0,1221.8 955.5,1181.2 1002.5,1197.5 1050.0,1182.0 1097.0,1179.2 1144.2,1173.8" fill="none" stroke="#0f7dab" stroke-width="3.5" stroke-linejoin="round" stroke-linecap="round"/>
</svg>
</body></html>
